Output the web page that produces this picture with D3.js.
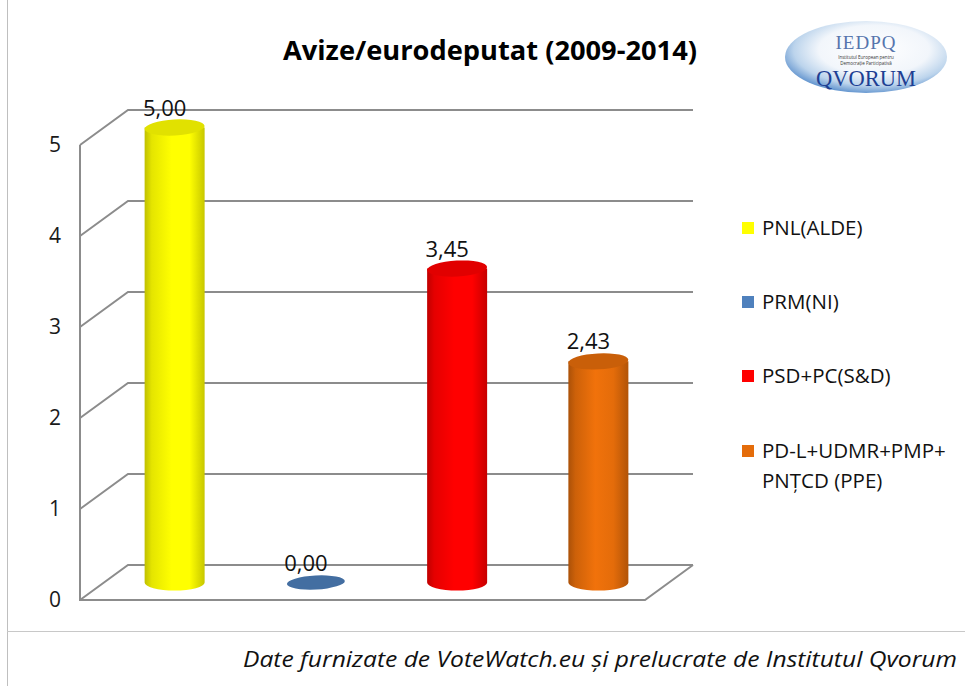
<!DOCTYPE html>
<html><head><meta charset="utf-8">
<script src="https://cdn.jsdelivr.net/npm/d3@7"></script>
<style>body{margin:0;background:#fff} svg{display:block}</style>
</head><body><svg id="c" width="965" height="686"></svg>
<script>
const categories = ["PNL(ALDE)", "PRM(NI)", "PSD+PC(S&D)", "PD-L+UDMR+PMP+\nPNȚCD (PPE)"];
const values = [5.00, 0.00, 3.45, 2.43];
const colors = ["#ffff00", "#4f81bd", "#ff0000", "#e46c0a"];
const yTicks = [0, 1, 2, 3, 4, 5];
const title = "Avize/eurodeputat (2009-2014)";
const footer = "Date furnizate de VoteWatch.eu și prelucrate de Institutul Qvorum";

const svg = d3.select("#c");
const defs = svg.append("defs");
const FONT = "'Open Sans', sans-serif";

// frame
svg.append("line").attr("x1", 7.5).attr("x2", 7.5).attr("y1", 0).attr("y2", 686).attr("stroke", "#bfbfbf");
svg.append("line").attr("x1", 7).attr("x2", 965).attr("y1", 631.5).attr("y2", 631.5).attr("stroke", "#c8c8c8");

// 3D geometry
const dx = 48, dy = -35;
const y = d3.scaleLinear().domain([0, 5]).range([600, 145]);
const x = d3.scaleBand().domain(categories).range([80, 645]);
const x0 = 80, x1 = 645;

const grid = svg.append("g").attr("stroke", "#8c8c8c").attr("stroke-width", 2).attr("fill", "none");
yTicks.forEach(t => {
  grid.append("path").attr("d", `M${x0},${y(t)}L${x0 + dx},${y(t) + dy}L${x1 + dx},${y(t) + dy}`);
});
grid.append("path").attr("d", `M${x0},${y(5)}L${x0},${y(0)}L${x1},${y(0)}L${x1 + dx},${y(0) + dy}`);

// y axis labels
const ax = svg.append("g").attr("transform", `translate(${x0},0)`)
  .call(d3.axisLeft(y).tickValues(yTicks).tickSize(0).tickPadding(19).tickFormat(d3.format("d")));
ax.select(".domain").remove();
ax.selectAll("text").attr("font-family", FONT).attr("font-size", 21).attr("fill", "#1a1a1a");

// cylinders
const rx = 30, ry = 8;
const fmt = v => d3.format(".2f")(v).replace(".", ",");
categories.forEach((c, i) => {
  const cx = x(c) + x.bandwidth() / 2 + dx / 2;
  const yb = y(0) + dy / 2;
  const yt = y(values[i]) + dy / 2;
  const base = d3.color(colors[i]);
  const g = svg.append("g");
  if (values[i] > 0) {
    const gid = "g" + i;
    const lg = defs.append("linearGradient").attr("id", gid).attr("x1", 0).attr("x2", 1).attr("y1", 0).attr("y2", 0);
    lg.append("stop").attr("offset", 0).attr("stop-color", base.darker(0.8));
    lg.append("stop").attr("offset", 0.12).attr("stop-color", base.darker(0.3));
    lg.append("stop").attr("offset", 0.45).attr("stop-color", base.brighter(0.15));
    lg.append("stop").attr("offset", 0.75).attr("stop-color", base);
    lg.append("stop").attr("offset", 1).attr("stop-color", base.darker(0.7));
    g.append("path")
      .attr("d", `M${cx - rx},${yt}L${cx - rx},${yb}A${rx},${ry} 0 0 0 ${cx + rx},${yb}L${cx + rx},${yt}Z`)
      .attr("fill", `url(#${gid})`);
    g.append("ellipse").attr("cx", cx).attr("cy", yt).attr("rx", rx).attr("ry", ry)
      .attr("fill", base.darker(0.35)).attr("transform", `rotate(-3 ${cx} ${yt})`);
  } else {
    g.append("ellipse").attr("cx", cx).attr("cy", yb).attr("rx", rx - 1).attr("ry", 7)
      .attr("fill", base.darker(0.45)).attr("transform", `rotate(-3 ${cx} ${yb})`);
  }
  svg.append("text").attr("x", cx - 10).attr("y", yt - 12).attr("text-anchor", "middle")
    .attr("font-family", FONT).attr("font-size", 22).attr("fill", "#111").text(fmt(values[i]));
});

// legend
const legY = [228, 302, 376, 451];
categories.forEach((c, i) => {
  const g = svg.append("g").attr("transform", `translate(742,${legY[i]})`);
  g.append("rect").attr("x", 0).attr("y", -6).attr("width", 12).attr("height", 12).attr("fill", colors[i]);
  const t = g.append("text").attr("font-family", FONT).attr("font-size", 20.5).attr("fill", "#111");
  c.split("\n").forEach((l, k) => {
    t.append("tspan").attr("x", 20).attr("y", 7 + k * 30).text(l);
  });
});

// title
svg.append("text").attr("x", 490).attr("y", 60).attr("text-anchor", "middle")
  .attr("font-family", FONT).attr("font-weight", "bold").attr("font-size", 26.5)
  .attr("textLength", 414).attr("lengthAdjust", "spacingAndGlyphs").attr("fill", "#000").text(title);

// footer
svg.append("text").attr("x", 957).attr("y", 667).attr("text-anchor", "end")
  .attr("font-family", FONT).attr("font-style", "italic").attr("font-size", 22.5)
  .attr("textLength", 714).attr("lengthAdjust", "spacingAndGlyphs").attr("fill", "#111").text(footer);

// logo
const rg = defs.append("radialGradient").attr("id", "logoG").attr("cx", "55%").attr("cy", "40%").attr("r", "62%");
rg.append("stop").attr("offset", 0).attr("stop-color", "#ffffff");
rg.append("stop").attr("offset", 0.55).attr("stop-color", "#f2f6fb");
rg.append("stop").attr("offset", 0.8).attr("stop-color", "#bcd4ec");
rg.append("stop").attr("offset", 1).attr("stop-color", "#5b8fcc");
const logo = svg.append("g");
logo.append("ellipse").attr("cx", 866).attr("cy", 57).attr("rx", 81).attr("ry", 36).attr("fill", "url(#logoG)");
logo.append("text").attr("x", 866).attr("y", 49).attr("text-anchor", "middle").attr("font-family", "'Liberation Serif', serif")
  .attr("font-size", 19).attr("letter-spacing", 1).attr("fill", "#5675ad").text("IEDPQ");
logo.append("text").attr("x", 866).attr("y", 58.5).attr("text-anchor", "middle").attr("font-family", FONT)
  .attr("font-size", 4.5).attr("fill", "#333").text("Institutul European pentru");
logo.append("text").attr("x", 866).attr("y", 64.5).attr("text-anchor", "middle").attr("font-family", FONT)
  .attr("font-size", 4.5).attr("fill", "#333").text("Democrație Participativă");
logo.append("text").attr("x", 866).attr("y", 86).attr("text-anchor", "middle").attr("font-family", "'Liberation Serif', serif")
  .attr("font-size", 22.5).attr("fill", "#1e3f93").text("QVORUM");
</script></body></html>
